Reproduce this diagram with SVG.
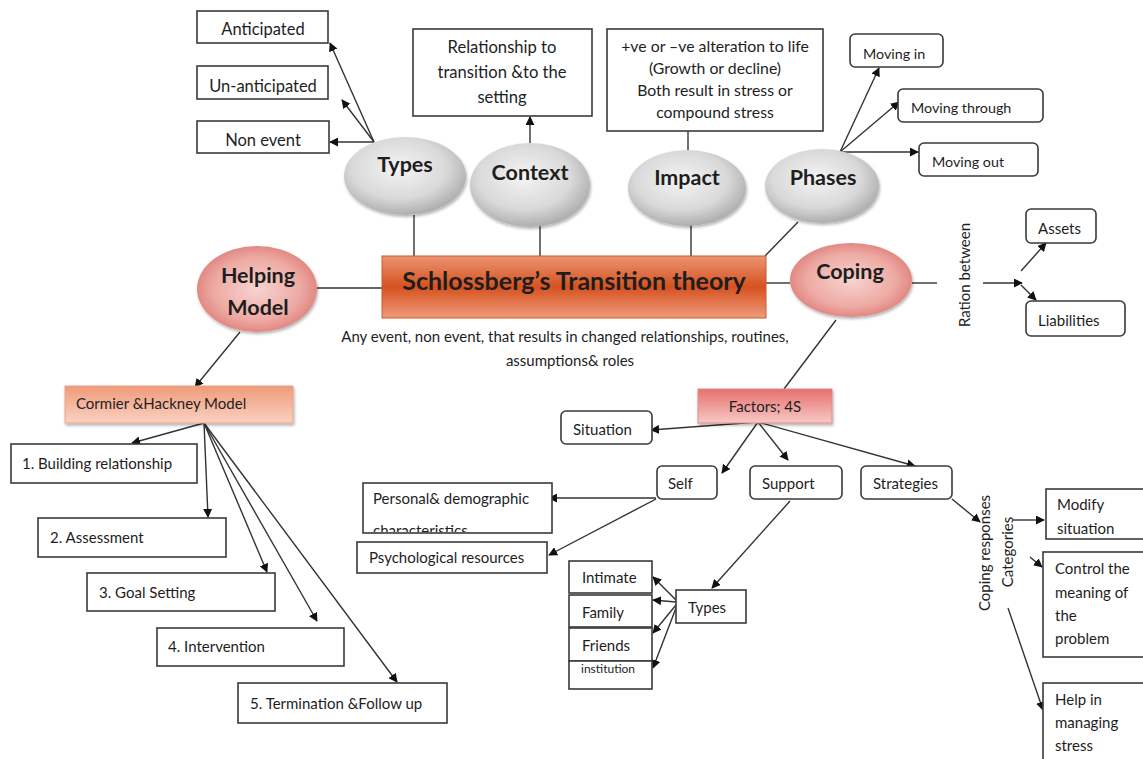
<svg xmlns="http://www.w3.org/2000/svg" width="1143" height="759" viewBox="0 0 1143 759">
<defs>
<style>
.box{fill:#fff;stroke:#3a3a3a;stroke-width:1.6}
.t{font-family:Lato,"Liberation Sans",sans-serif;fill:#1e1e1e}
.s{font-size:15px}
.b{font-weight:bold;font-size:21.5px}
.ln{stroke:#333;stroke-width:1.4;fill:none}
.ar{stroke:#333;stroke-width:1.4;fill:none;marker-end:url(#ah)}
</style>
<marker id="ah" viewBox="0 0 10 10" refX="9" refY="5" markerWidth="9" markerHeight="9" markerUnits="userSpaceOnUse" orient="auto">
<path d="M0,0 L10,5 L0,10 z" fill="#111"/>
</marker>
<radialGradient id="gray" cx="0.45" cy="0.4" r="0.65">
<stop offset="0" stop-color="#f4f4f4"/>
<stop offset="0.6" stop-color="#d9d9d9"/>
<stop offset="1" stop-color="#a4a4a4"/>
</radialGradient>
<radialGradient id="pink" cx="0.5" cy="0.5" r="0.6">
<stop offset="0" stop-color="#f7d3cf"/>
<stop offset="0.6" stop-color="#eeaaa4"/>
<stop offset="1" stop-color="#d9706b"/>
</radialGradient>
<linearGradient id="main" x1="0" y1="0" x2="0" y2="1">
<stop offset="0" stop-color="#ec9473"/>
<stop offset="0.5" stop-color="#d6521f"/>
<stop offset="1" stop-color="#ee9a7c"/>
</linearGradient>
<linearGradient id="corm" x1="0" y1="0" x2="0" y2="1">
<stop offset="0" stop-color="#f09a78"/>
<stop offset="1" stop-color="#f9d2c2"/>
</linearGradient>
<linearGradient id="fact" x1="0" y1="0" x2="0" y2="1">
<stop offset="0" stop-color="#e5706d"/>
<stop offset="1" stop-color="#f8c9c6"/>
</linearGradient>
<filter id="sh" x="-20%" y="-20%" width="140%" height="150%">
<feDropShadow dx="1" dy="2" stdDeviation="1.5" flood-color="#000" flood-opacity="0.3"/>
</filter>
<clipPath id="cpPers"><rect x="363" y="483" width="189" height="49"/></clipPath>
</defs>
<rect width="1143" height="759" fill="#fff"/>

<g id="connectors">
<line class="ln" x1="414" y1="215" x2="414" y2="256"/>
<line class="ln" x1="540" y1="226" x2="540" y2="256"/>
<line class="ln" x1="691" y1="225" x2="691" y2="256"/>
<line class="ln" x1="765" y1="256" x2="798" y2="222"/>
<line class="ln" x1="317" y1="288" x2="382" y2="288"/>
<line class="ln" x1="766" y1="283" x2="790" y2="283"/>
<line class="ln" x1="912" y1="283" x2="937" y2="283"/>
<line class="ar" x1="983" y1="283" x2="1022" y2="283"/>
<line class="ar" x1="1021" y1="271" x2="1046" y2="243"/>
<line class="ar" x1="1021" y1="285" x2="1036" y2="300"/>
<line class="ln" x1="836" y1="320" x2="784" y2="389"/>
<line class="ar" x1="240" y1="332" x2="195" y2="387"/>
<line class="ar" x1="374" y1="142" x2="330" y2="43"/>
<line class="ar" x1="374" y1="142" x2="342" y2="100"/>
<line class="ar" x1="374" y1="142" x2="330" y2="142"/>
<line class="ar" x1="530" y1="143" x2="530" y2="117"/>
<line class="ar" x1="688" y1="150" x2="688" y2="122"/>
<line class="ar" x1="840" y1="152" x2="879" y2="68"/>
<line class="ar" x1="840" y1="152" x2="899" y2="102"/>
<line class="ar" x1="840" y1="152" x2="918" y2="152"/>
<line class="ar" x1="204" y1="423" x2="132" y2="443"/>
<line class="ar" x1="204" y1="423" x2="208" y2="517"/>
<line class="ar" x1="204" y1="423" x2="267" y2="572"/>
<line class="ar" x1="204" y1="423" x2="317" y2="621"/>
<line class="ar" x1="204" y1="423" x2="397" y2="682"/>
<line class="ar" x1="758" y1="422" x2="651" y2="430"/>
<line class="ar" x1="758" y1="422" x2="722" y2="473"/>
<line class="ar" x1="758" y1="422" x2="788" y2="460"/>
<line class="ar" x1="758" y1="422" x2="915" y2="466"/>
<line class="ar" x1="656" y1="498" x2="549" y2="498"/>
<line class="ar" x1="656" y1="499" x2="549" y2="555"/>
<line class="ar" x1="790" y1="501" x2="712" y2="588"/>
<line class="ar" x1="676" y1="600" x2="653" y2="577"/>
<line class="ar" x1="676" y1="602" x2="653" y2="600"/>
<line class="ar" x1="676" y1="605" x2="653" y2="633"/>
<line class="ar" x1="676" y1="608" x2="653" y2="668"/>
<line class="ar" x1="952" y1="499" x2="980" y2="522"/>
<line class="ar" x1="1013" y1="520" x2="1044" y2="520"/>
<line class="ar" x1="1030" y1="557" x2="1042" y2="567"/>
<line class="ar" x1="1008" y1="608" x2="1043" y2="710"/>
</g>

<g id="central">
<rect x="382" y="256" width="384" height="62" fill="url(#main)" stroke="#c85a30" stroke-width="1"/>
<text class="t" x="574" y="290" font-size="25" font-weight="bold" text-anchor="middle">Schlossberg’s Transition theory</text>
</g>
<g id="definition">
<text class="t" x="565" y="342" font-size="15" text-anchor="middle">Any event, non event, that results in changed relationships, routines,</text>
<text class="t" x="570" y="366" font-size="15" text-anchor="middle">assumptions&amp; roles</text>
</g>

<g id="types">
<ellipse cx="405" cy="176" rx="61" ry="39" fill="url(#gray)" filter="url(#sh)"/>
<text class="t b" x="405" y="172" text-anchor="middle">Types</text>
</g>
<g id="context">
<ellipse cx="530" cy="185" rx="60" ry="42" fill="url(#gray)" filter="url(#sh)"/>
<text class="t b" x="530" y="180" text-anchor="middle">Context</text>
</g>
<g id="impact">
<ellipse cx="687" cy="188" rx="59" ry="38" fill="url(#gray)" filter="url(#sh)"/>
<text class="t b" x="687" y="185" text-anchor="middle">Impact</text>
</g>
<g id="phases">
<ellipse cx="822" cy="186" rx="57" ry="37" fill="url(#gray)" filter="url(#sh)"/>
<text class="t b" x="823" y="185" text-anchor="middle">Phases</text>
</g>
<g id="helping">
<ellipse cx="257" cy="289" rx="60" ry="43" fill="url(#pink)" filter="url(#sh)"/>
<text class="t b" x="258" y="283" text-anchor="middle">Helping</text>
<text class="t b" x="258" y="315" text-anchor="middle">Model</text>
</g>
<g id="coping">
<ellipse cx="851" cy="280" rx="61" ry="37" fill="url(#pink)" filter="url(#sh)"/>
<text class="t b" x="850" y="279" text-anchor="middle">Coping</text>
</g>

<g id="anticipated">
<rect class="box" x="197" y="11" width="131" height="32"/>
<text class="t" x="263" y="35" font-size="16.5" text-anchor="middle">Anticipated</text>
</g>
<g id="unanticipated">
<rect class="box" x="197" y="66" width="131" height="33"/>
<text class="t" x="263" y="92" font-size="16.5" text-anchor="middle">Un-anticipated</text>
</g>
<g id="nonevent">
<rect class="box" x="197" y="121" width="132" height="32"/>
<text class="t" x="263" y="146" font-size="16.5" text-anchor="middle">Non event</text>
</g>
<g id="context-box">
<rect class="box" x="413" y="29" width="179" height="87"/>
<text class="t" x="502" y="53" font-size="16.6" text-anchor="middle">Relationship to</text>
<text class="t" x="502" y="78" font-size="16.6" text-anchor="middle">transition &amp;to the</text>
<text class="t" x="502" y="103" font-size="16.6" text-anchor="middle">setting</text>
</g>
<g id="impact-box">
<rect class="box" x="607" y="29" width="216" height="102"/>
<text class="t" x="715" y="52" font-size="15.8" text-anchor="middle">+ve or –ve alteration to life</text>
<text class="t" x="715" y="74" font-size="15.8" text-anchor="middle">(Growth or decline)</text>
<text class="t" x="715" y="96" font-size="15.8" text-anchor="middle">Both result in stress or</text>
<text class="t" x="715" y="118" font-size="15.8" text-anchor="middle">compound stress</text>
</g>
<g id="moving-in">
<rect class="box" x="850" y="34" width="93" height="33" rx="5"/>
<text class="t" x="863" y="59" font-size="14.3">Moving in</text>
</g>
<g id="moving-through">
<rect class="box" x="898" y="89" width="145" height="33" rx="5"/>
<text class="t" x="911" y="113" font-size="14.3">Moving through</text>
</g>
<g id="moving-out">
<rect class="box" x="919" y="143" width="119" height="33" rx="5"/>
<text class="t" x="932" y="167" font-size="14.3">Moving out</text>
</g>

<g id="ration">
<text class="t" transform="translate(970,275) rotate(-90)" font-size="15" text-anchor="middle">Ration between</text>
</g>
<g id="assets">
<rect class="box" x="1026" y="209" width="70" height="34" rx="5"/>
<text class="t s" x="1038" y="234">Assets</text>
</g>
<g id="liabilities">
<rect class="box" x="1026" y="301" width="99" height="35" rx="5"/>
<text class="t s" x="1038" y="326">Liabilities</text>
</g>

<g id="cormier">
<rect x="65" y="386" width="228" height="37" fill="url(#corm)" stroke="#e8a58c" stroke-width="1" filter="url(#sh)"/>
<text class="t s" x="76" y="409">Cormier &amp;Hackney Model</text>
</g>
<g id="step1">
<rect class="box" x="11" y="444" width="186" height="39"/>
<text class="t s" x="22" y="469">1. Building relationship</text>
</g>
<g id="step2">
<rect class="box" x="38" y="518" width="188" height="39"/>
<text class="t s" x="50" y="543">2. Assessment</text>
</g>
<g id="step3">
<rect class="box" x="87" y="573" width="188" height="38"/>
<text class="t s" x="99" y="598">3. Goal Setting</text>
</g>
<g id="step4">
<rect class="box" x="157" y="628" width="187" height="38"/>
<text class="t s" x="168" y="652">4. Intervention</text>
</g>
<g id="step5">
<rect class="box" x="238" y="683" width="209" height="40"/>
<text class="t s" x="250" y="709">5. Termination &amp;Follow up</text>
</g>

<g id="factors">
<rect x="698" y="389" width="134" height="34" fill="url(#fact)" stroke="#e28a86" stroke-width="1" filter="url(#sh)"/>
<text class="t s" x="765" y="412" text-anchor="middle">Factors; 4S</text>
</g>
<g id="situation">
<rect class="box" x="561" y="411" width="91" height="33" rx="5"/>
<text class="t s" x="573" y="435">Situation</text>
</g>
<g id="self">
<rect class="box" x="657" y="466" width="60" height="33" rx="5"/>
<text class="t s" x="668" y="489">Self</text>
</g>
<g id="support">
<rect class="box" x="750" y="466" width="92" height="33" rx="5"/>
<text class="t s" x="762" y="489">Support</text>
</g>
<g id="strategies">
<rect class="box" x="861" y="466" width="91" height="33" rx="5"/>
<text class="t s" x="873" y="489">Strategies</text>
</g>
<g id="personal">
<rect class="box" x="363" y="483" width="189" height="50"/>
<g clip-path="url(#cpPers)">
<text class="t s" x="373" y="504">Personal&amp; demographic</text>
<text class="t s" x="373" y="536">characteristics</text>
</g>
</g>
<g id="psych">
<rect class="box" x="357" y="542" width="190" height="31"/>
<text class="t s" x="369" y="563">Psychological resources</text>
</g>
<g id="types-support">
<rect class="box" x="676" y="590" width="70" height="33"/>
<text class="t s" x="688" y="613">Types</text>
</g>
<g id="intimate">
<rect class="box" x="569" y="561" width="83" height="32"/>
<text class="t s" x="582" y="583">Intimate</text>
</g>
<g id="family">
<rect class="box" x="569" y="595" width="83" height="32"/>
<text class="t s" x="582" y="618">Family</text>
</g>
<g id="friends">
<rect class="box" x="569" y="628" width="83" height="33"/>
<text class="t s" x="582" y="651">Friends</text>
</g>
<g id="institution">
<rect class="box" x="569" y="661" width="83" height="28"/>
<text class="t" x="581" y="673" font-size="12">institution</text>
</g>

<g id="coping-responses">
<text class="t s" transform="translate(990,553) rotate(-90)" text-anchor="middle">Coping responses</text>
</g>
<g id="categories">
<text class="t s" transform="translate(1013,552) rotate(-90)" text-anchor="middle">Categories</text>
</g>
<g id="modify">
<rect class="box" x="1046" y="489" width="100" height="50"/>
<text class="t s" x="1057" y="510">Modify</text>
<text class="t s" x="1057" y="534">situation</text>
</g>
<g id="control">
<rect class="box" x="1043" y="552" width="103" height="105"/>
<text class="t s" x="1055" y="574">Control the</text>
<text class="t s" x="1055" y="598">meaning of</text>
<text class="t s" x="1055" y="621">the</text>
<text class="t s" x="1055" y="644">problem</text>
</g>
<g id="help">
<rect class="box" x="1043" y="683" width="103" height="82"/>
<text class="t s" x="1055" y="705">Help in</text>
<text class="t s" x="1055" y="728">managing</text>
<text class="t s" x="1055" y="751">stress</text>
</g>
</svg>
